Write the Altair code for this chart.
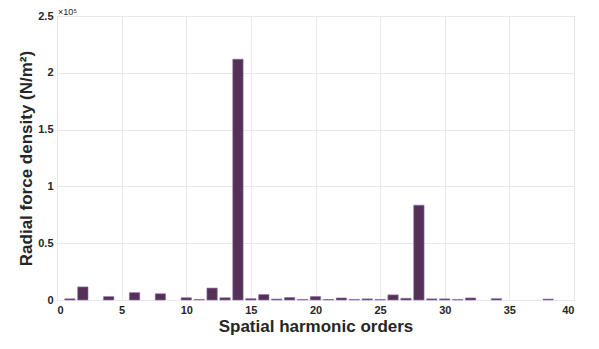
import altair as alt
import pandas as pd

orders = list(range(1, 40))
values = [0.010, 0.115, 0.0, 0.030, 0.0, 0.065, 0.0, 0.055, 0.0, 0.020,
          0.005, 0.105, 0.020, 2.120, 0.012, 0.048, 0.008, 0.022, 0.005, 0.030,
          0.005, 0.018, 0.005, 0.010, 0.005, 0.045, 0.015, 0.835, 0.010, 0.010,
          0.005, 0.018, 0.0, 0.012, 0.0, 0.0, 0.0, 0.008, 0.0]
x_ticks = [0, 5, 10, 15, 20, 25, 30, 35, 40]
y_ticks = [0, 0.5, 1, 1.5, 2, 2.5]
exponent_label = ["×10⁵"]

df = pd.DataFrame({"order": orders, "value": values})

base = alt.Chart(df).transform_filter("datum.value > 0").transform_calculate(
    x0="datum.order - 0.4", x1="datum.order + 0.4"
)

bars = base.mark_bar(color="#553158", stroke="#8a70b0", strokeWidth=0.6).encode(
    x=alt.X("x0:Q", scale=alt.Scale(domain=[0, 40], nice=False, zero=False),
            axis=alt.Axis(values=x_ticks, title="Spatial harmonic orders", format="d")),
    x2="x1:Q",
    y=alt.Y("value:Q", scale=alt.Scale(domain=[0, 2.5], nice=False),
            axis=alt.Axis(values=y_ticks, title="Radial force density (N/m²)", format="~g")),
    y2=alt.datum(0),
)

exp_text = alt.Chart(pd.DataFrame({"t": exponent_label})).mark_text(
    align="left", baseline="alphabetic", fontSize=9, font="Liberation Sans",
    color="#262626"
).encode(text="t:N", x=alt.value(1), y=alt.value(-1))

chart = alt.layer(bars, exp_text).properties(
    width=517, height=284,
    autosize=alt.AutoSizeParams(type="none"),
    padding={"left": 49, "top": 8, "right": 17, "bottom": 41},
).configure_view(
    stroke="#9a9a9a", strokeWidth=1
).configure_axis(
    grid=True, gridColor="#e8e8e8", gridWidth=1,
    domain=False, ticks=False,
    labelFont="Liberation Sans", labelFontSize=11, labelFontWeight="bold",
    labelColor="#262626", labelPadding=4,
    titleFont="Liberation Sans", titleFontSize=17, titleFontWeight="bold",
    titleColor="#262626",
).configure_axisX(
    titlePadding=3
).configure_axisY(
    titlePadding=2
)

chart.save("out.html", embed_options={"renderer": "svg", "actions": False})
